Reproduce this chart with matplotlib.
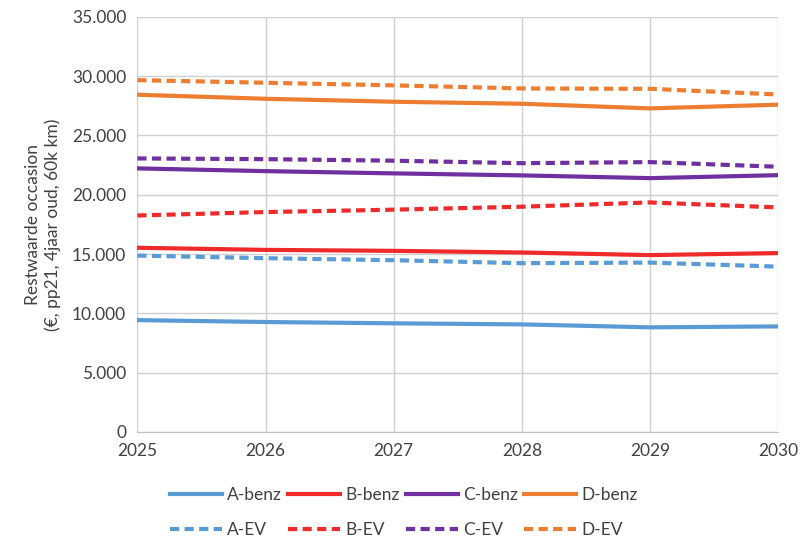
import matplotlib.pyplot as plt
from matplotlib.ticker import FuncFormatter

plt.rcParams['font.family'] = ['Lato', 'DejaVu Sans']

years = [2025, 2026, 2027, 2028, 2029, 2030]

a_benz = [9430, 9270, 9160, 9070, 8820, 8900]
b_benz = [15530, 15350, 15270, 15130, 14910, 15080]
c_benz = [22220, 21990, 21800, 21630, 21400, 21650]
d_benz = [28430, 28090, 27840, 27670, 27280, 27590]

a_ev = [14870, 14650, 14480, 14230, 14280, 13940]
b_ev = [18250, 18540, 18740, 18990, 19350, 18930]
c_ev = [23060, 23000, 22870, 22660, 22750, 22360]
d_ev = [29660, 29440, 29220, 28960, 28930, 28450]

kleuren = {'A': '#5B9BD5', 'B': '#EE2A2A', 'C': '#7030A0', 'D': '#ED7D31'}

fig = plt.figure(figsize=(8.08, 5.42), dpi=100)
ax = fig.add_axes([0.170, 0.203, 0.793, 0.766])

handles = []
for key, benz, ev in [('A', a_benz, a_ev), ('B', b_benz, b_ev),
                      ('C', c_benz, c_ev), ('D', d_benz, d_ev)]:
    h1, = ax.plot(years, benz, color=kleuren[key], lw=3, label=key + '-benz')
    h2, = ax.plot(years, ev, color=kleuren[key], lw=3, ls=(0, (2.2, 1.3)),
                  label=key + '-EV')
    handles += [h1, h2]

ax.set_xlim(2025, 2030)
ax.set_ylim(0, 35000)
ax.set_yticks(range(0, 35001, 5000))
ax.yaxis.set_major_formatter(FuncFormatter(lambda v, p: f"{int(v):,}".replace(',', '.')))
ax.grid(True, color='#D0D0D0', lw=1)
ax.set_axisbelow(True)
for s in ['top', 'right', 'left']:
    ax.spines[s].set_visible(False)
ax.spines['bottom'].set_color('#C0C0C0')
ax.tick_params(length=0, labelsize=12.5, colors='#404040', pad=8)
ax.set_ylabel('Restwaarde occasion\n(€, pp21, 4jaar oud, 60k km)',
              fontsize=12.5, color='#404040', labelpad=8)

fig.legend(handles=handles, labels=[h.get_label() for h in handles],
           ncol=4, loc='lower center', bbox_to_anchor=(0.5, -0.022),
           frameon=False, fontsize=12.5, handlelength=3.0, handletextpad=0.3,
           columnspacing=0.35, labelspacing=1.1, labelcolor='#404040')

fig.savefig('out.png', dpi=100)
